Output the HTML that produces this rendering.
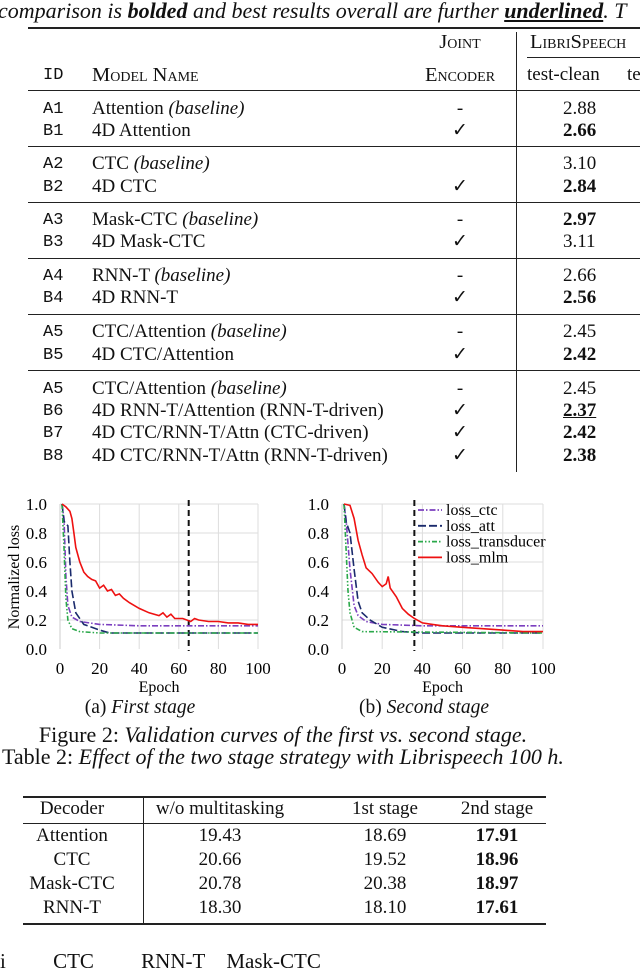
<!DOCTYPE html>
<html><head><meta charset="utf-8"><style>
body{margin:0;width:640px;height:962px;background:#fff;position:relative;overflow:hidden;font-family:"Liberation Serif",serif;color:#111}
.t{position:absolute;white-space:nowrap;font-size:19px;line-height:22px}
.m{font-family:"Liberation Mono",monospace;font-size:17px}
.c{transform:translateX(-50%)}
.hl{position:absolute;background:#222}
.sc{font-variant:small-caps;font-size:20.5px}
</style></head><body>
<div class="t" style="left:-2px;top:-1px;font-size:22px;line-height:24px;font-style:italic">comparison is <b>bolded</b> and best results overall are further <b><u>underlined</u></b>. T</div>
<div class="hl" style="left:28px;top:27px;width:612px;height:2px"></div>
<div class="hl" style="left:516px;top:32px;width:1px;height:440px"></div>
<div class="t sc c" style="left:460px;top:31px">Joint</div>
<div class="t sc" style="left:530px;top:31px">LibriSpeech</div>
<div class="hl" style="left:527px;top:57px;width:113px;height:1px"></div>
<div class="t m" style="left:43px;top:65px">ID</div>
<div class="t sc" style="left:92px;top:64px">Model Name</div>
<div class="t sc c" style="left:460px;top:64px">Encoder</div>
<div class="t" style="left:527px;top:64px">test-clean</div>
<div class="t" style="left:627px;top:64px">te</div>
<div class="hl" style="left:28px;top:90px;width:612px;height:1px"></div>
<div id="t1"></div>

<svg id="charts" width="640" height="962" style="position:absolute;left:0;top:0"></svg>

<div class="t c" style="left:140px;top:697px;font-size:19.5px">(a) <i>First stage</i></div>
<div class="t c" style="left:424px;top:697px;font-size:19.5px">(b) <i>Second stage</i></div>
<div class="t c" style="left:283px;top:724px;font-size:22px">Figure 2: <i>Validation curves of the first vs. second stage.</i></div>
<div class="t" style="left:2px;top:746px;font-size:22px">Table 2: <i>Effect of the two stage strategy with Librispeech 100 h.</i></div>
<div class="hl" style="left:23px;top:796px;width:523px;height:2px"></div>
<div class="hl" style="left:23px;top:823px;width:523px;height:1px"></div>
<div class="hl" style="left:23px;top:923px;width:523px;height:2px"></div>
<div class="hl" style="left:143px;top:797px;width:1px;height:127px"></div>
<div id="t2"></div>
<div class="t" style="left:0;top:950px;font-size:21px">i&nbsp;&nbsp;&nbsp;&nbsp;&nbsp;&nbsp;&nbsp;&nbsp;&nbsp;CTC&nbsp;&nbsp;&nbsp;&nbsp;&nbsp;&nbsp;&nbsp;&nbsp;&nbsp;RNN-T&nbsp;&nbsp;&nbsp;&nbsp;Mask-CTC</div>

<script>
// Table 1
const t1ids=["A1","B1","A2","B2","A3","B3","A4","B4","A5","B5","A5","B6","B7","B8"];
const t1names=["Attention <i>(baseline)</i>","4D Attention","CTC <i>(baseline)</i>","4D CTC","Mask-CTC <i>(baseline)</i>","4D Mask-CTC","RNN-T <i>(baseline)</i>","4D RNN-T","CTC/Attention <i>(baseline)</i>","4D CTC/Attention","CTC/Attention <i>(baseline)</i>","4D RNN-T/Attention (RNN-T-driven)","4D CTC/RNN-T/Attn (CTC-driven)","4D CTC/RNN-T/Attn (RNN-T-driven)"];
const t1joint=["-","✓","","✓","-","✓","-","✓","-","✓","-","✓","✓","✓"];
const t1clean=["2.88","<b>2.66</b>","3.10","<b>2.84</b>","<b>2.97</b>","3.11","2.66","<b>2.56</b>","2.45","<b>2.42</b>","2.45","<b><u>2.37</u></b>","<b>2.42</b>","<b>2.38</b>"];
const t1top=[98,120,153,176,209,231,265,287,321,344,378,400,422,445];
const t1rules=[146,202,258,314,370];
let h="";
for(let i=0;i<t1ids.length;i++){
 h+=`<div class="t m" style="left:43px;top:${t1top[i]+1}px">${t1ids[i]}</div>`;
 h+=`<div class="t" style="left:92px;top:${t1top[i]}px">${t1names[i]}</div>`;
 h+=`<div class="t c" style="left:460px;top:${t1top[i]}px">${t1joint[i]}</div>`;
 h+=`<div class="t" style="left:563px;top:${t1top[i]}px">${t1clean[i]}</div>`;
}
for(const r of t1rules) h+=`<div class="hl" style="left:28px;top:${r}px;width:612px;height:1px"></div>`;
document.getElementById('t1').innerHTML=h;

// Table 2
const t2head=["Decoder","w/o multitasking","1st stage","2nd stage"];
const t2rows=[["Attention","19.43","18.69","17.91"],["CTC","20.66","19.52","18.96"],["Mask-CTC","20.78","20.38","18.97"],["RNN-T","18.30","18.10","17.61"]];
const t2cx=[72,220,385,497];
h="";
t2head.forEach((s,j)=>{h+=`<div class="t c" style="left:${t2cx[j]}px;top:798px;font-size:19px">${s}</div>`;});
t2rows.forEach((r,i)=>r.forEach((s,j)=>{h+=`<div class="t c" style="left:${t2cx[j]}px;top:${825+i*24}px;font-size:19px">${j==3?'<b>'+s+'</b>':s}</div>`;}));
document.getElementById('t2').innerHTML=h;

// Charts data
const ticksX=[0,20,40,60,80,100];
const ticksY=[0,0.2,0.4,0.6,0.8,1.0];
const aMlmE=[1,3,5,6,7,8,10,12,14,16,18,20,22,24,26,28,30,32,35,40,45,50,52,54,56,58,62,66,68,70,75,80,85,90,95,100];
const aMlmV=[1.0,0.98,0.95,0.9,0.8,0.7,0.6,0.53,0.5,0.48,0.47,0.42,0.44,0.4,0.41,0.37,0.38,0.35,0.32,0.28,0.25,0.23,0.25,0.22,0.24,0.21,0.21,0.19,0.21,0.2,0.19,0.19,0.18,0.18,0.17,0.17];
const aCtcE=[1,2,3,4,6,10,20,40,100];
const aCtcV=[1.0,0.9,0.5,0.3,0.22,0.19,0.17,0.16,0.16];
const aAttE=[1,2,4,5,6,8,12,20,25,100];
const aAttV=[1.0,0.88,0.85,0.6,0.4,0.25,0.17,0.13,0.11,0.11];
const aTrE=[1,2,3,4,6,10,20,100];
const aTrV=[1.0,0.7,0.35,0.2,0.14,0.12,0.11,0.11];
const bMlmE=[1,4,6,8,10,12,15,18,20,22,23,24,27,30,33,36,40,45,50,60,70,80,90,100];
const bMlmV=[1.0,0.99,0.9,0.75,0.65,0.56,0.52,0.46,0.43,0.45,0.5,0.42,0.36,0.28,0.24,0.21,0.18,0.17,0.16,0.15,0.14,0.13,0.12,0.12];
const bCtcE=[1,2,4,6,8,12,20,40,100];
const bCtcV=[1.0,0.9,0.55,0.3,0.23,0.19,0.17,0.16,0.16];
const bAttE=[1,2,4,6,8,10,14,20,30,40,100];
const bAttV=[1.0,0.88,0.8,0.55,0.33,0.25,0.2,0.15,0.12,0.11,0.11];
const bTrE=[1,2,3,4,6,10,100];
const bTrV=[1.0,0.7,0.4,0.25,0.15,0.12,0.11];
const vlineA=65, vlineB=36;
const legendLabels=["loss_ctc","loss_att","loss_transducer","loss_mlm"];

const NS="http://www.w3.org/2000/svg";
const svg=document.getElementById('charts');
function el(tag,attrs,parent){const e=document.createElementNS(NS,tag);for(const k in attrs)e.setAttribute(k,attrs[k]);(parent||svg).appendChild(e);return e;}
const styles=[
 {stroke:"#7b3fbf",dash:"6,2,1.5,2"},
 {stroke:"#1a2a6c",dash:"8,3"},
 {stroke:"#2aa84a",dash:"5,2,1.5,2,1.5,2"},
 {stroke:"#ee1111",dash:""}];
function chart(name,x0,x1,series,vl){
 const y0=649,y1=504;
 const sx=v=>x0+(x1-x0)*v/100, sy=v=>y0-(y0-y1)*v;
 const g=el('g',{});
 
 
 ticksY.forEach(t=>{if(t>0){const l=el('line',{x1:x0,x2:x1,y1:sy(t),y2:sy(t),stroke:"#ddd","stroke-width":1},g);}
  const tx=el('text',{x:x0-13,y:sy(t)+6,"text-anchor":"end","font-size":17,"font-family":"Liberation Serif"},g);tx.textContent=t.toFixed(1);});
 ticksX.forEach(t=>{if(t>0){const l=el('line',{x1:sx(t),x2:sx(t),y1:y0,y2:y1,stroke:"#ddd","stroke-width":1},g);}
  const tx=el('text',{x:sx(t),y:674,"text-anchor":"middle","font-size":17,"font-family":"Liberation Serif"},g);tx.textContent=t;});
 const ax=el('line',{x1:x0,x2:x0,y1:y0,y2:y1,stroke:"#ccc"},g);
 const xl=el('text',{x:(x0+x1)/2,y:692,"text-anchor":"middle","font-size":16,"font-family":"Liberation Serif"},g);xl.textContent="Epoch";
 
 
 const vline=el('line',{x1:sx(vl),x2:sx(vl),y1:500,y2:y0+2,stroke:"#111","stroke-width":2,"stroke-dasharray":"6,4"},g);
 
 
 series.forEach((s,i)=>{const [E,V]=s;const d=E.map((e,k)=>(k?'L':'M')+sx(e).toFixed(1)+','+sy(V[k]).toFixed(1)).join('');
  const p=el('path',{d:d,fill:"none",stroke:styles[i].stroke,"stroke-width":1.6,"stroke-dasharray":styles[i].dash},g);
  
  });
}
chart('chart-first-stage',60,258,[[aCtcE,aCtcV],[aAttE,aAttV],[aTrE,aTrV],[aMlmE,aMlmV]],vlineA);
chart('chart-second-stage',342,543,[[bCtcE,bCtcV],[bAttE,bAttV],[bTrE,bTrV],[bMlmE,bMlmV]],vlineB);
const yl=el('text',{x:0,y:0,transform:"translate(19,577) rotate(-90)","text-anchor":"middle","font-size":16,"font-family":"Liberation Serif"});
yl.textContent="Normalized loss";


legendLabels.forEach((lab,i)=>{const y=510+i*15.8;
 const lg=el('g',{});
 
 
 el('line',{x1:418,x2:442,y1:y,y2:y,stroke:styles[i].stroke,"stroke-width":1.8,"stroke-dasharray":styles[i].dash},lg);
 const t=el('text',{x:446,y:y+5,"font-size":16,"font-family":"Liberation Serif"},lg);t.textContent=lab;});
</script>
</body></html>
